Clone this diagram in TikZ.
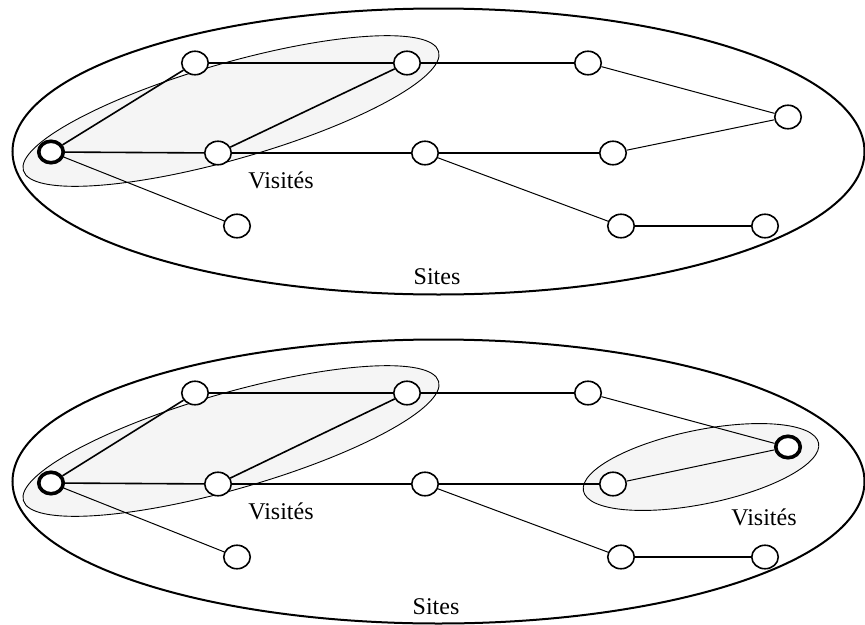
\documentclass[tikz,border=0pt]{standalone}
\usepackage{fontspec}
\setmainfont{Liberation Serif}
\usetikzlibrary{shapes.geometric}
\definecolor{visfill}{HTML}{F5F5F5}
\tikzset{
  site/.style={ellipse, draw, fill=white, line width=1.6pt, inner sep=0pt, minimum width=26.5pt, minimum height=23.5pt},
  start/.style={site, line width=3.6pt, minimum width=24.5pt, minimum height=21.5pt},
  big/.style={draw, line width=2pt},
  vis/.style={draw, fill=visfill, line width=0.9pt},
  strong/.style={line width=1.6pt},
  weak/.style={line width=1pt},
  lbl/.style={font=\fontsize{24}{27}\selectfont, inner sep=0pt}
}
\begin{document}
\begin{tikzpicture}[x=1pt,y=-1pt]
\useasboundingbox (0,0) rectangle (865,624);
% ---------- top panel ----------
\draw[big] (438.5,151.5) ellipse [x radius=426pt, y radius=143pt];
\draw[vis, shift={(231,111)}, rotate=16] (0,0) ellipse [x radius=216pt, y radius=48pt];
\node[start] (a1) at (51,152) {};
\node[site] (b1) at (195,63) {};
\node[site] (c1) at (407,63) {};
\node[site] (d1) at (588,63) {};
\node[site] (e1) at (788,117) {};
\node[site] (f1) at (218,153) {};
\node[site] (g1) at (425,153) {};
\node[site] (h1) at (613,153) {};
\node[site] (i1) at (237,226) {};
\node[site] (j1) at (621,226) {};
\node[site] (k1) at (765,226) {};
\draw[strong] (a1) -- (b1);
\draw[strong] (a1) -- (f1);
\draw[weak] (a1) -- (i1);
\draw[strong] (b1) -- (c1);
\draw[strong] (c1) -- (f1);
\draw[strong] (c1) -- (d1);
\draw[weak] (d1) -- (e1);
\draw[strong] (f1) -- (g1);
\draw[strong] (g1) -- (h1);
\draw[weak] (h1) -- (e1);
\draw[weak] (g1) -- (j1);
\draw[strong] (j1) -- (k1);
\node[lbl] (v1) at (281,180) {Visités};
\node[lbl] (s1) at (437,277) {Sites};
% ---------- bottom panel ----------
\draw[big] (438.5,481.5) ellipse [x radius=426pt, y radius=142pt];
\draw[vis, shift={(231,441)}, rotate=16] (0,0) ellipse [x radius=216pt, y radius=48pt];
\draw[vis, shift={(701,467)}, rotate=11.5] (0,0) ellipse [x radius=120pt, y radius=37pt];
\node[start] (a2) at (51,483) {};
\node[site] (b2) at (195,393) {};
\node[site] (c2) at (407,393) {};
\node[site] (d2) at (588,393) {};
\node[start] (e2) at (788,447) {};
\node[site] (f2) at (218,484) {};
\node[site] (g2) at (425,484) {};
\node[site] (h2) at (613,484) {};
\node[site] (i2) at (237,557) {};
\node[site] (j2) at (621,557) {};
\node[site] (k2) at (765,557) {};
\draw[strong] (a2) -- (b2);
\draw[strong] (a2) -- (f2);
\draw[weak] (a2) -- (i2);
\draw[strong] (b2) -- (c2);
\draw[strong] (c2) -- (f2);
\draw[strong] (c2) -- (d2);
\draw[weak] (d2) -- (e2);
\draw[strong] (f2) -- (g2);
\draw[strong] (g2) -- (h2);
\draw[weak] (h2) -- (e2);
\draw[weak] (g2) -- (j2);
\draw[strong] (j2) -- (k2);
\node[lbl] (v2) at (281,511) {Visités};
\node[lbl] (v3) at (764,517) {Visités};
\node[lbl] (s2) at (436,607) {Sites};
\end{tikzpicture}
\end{document}
